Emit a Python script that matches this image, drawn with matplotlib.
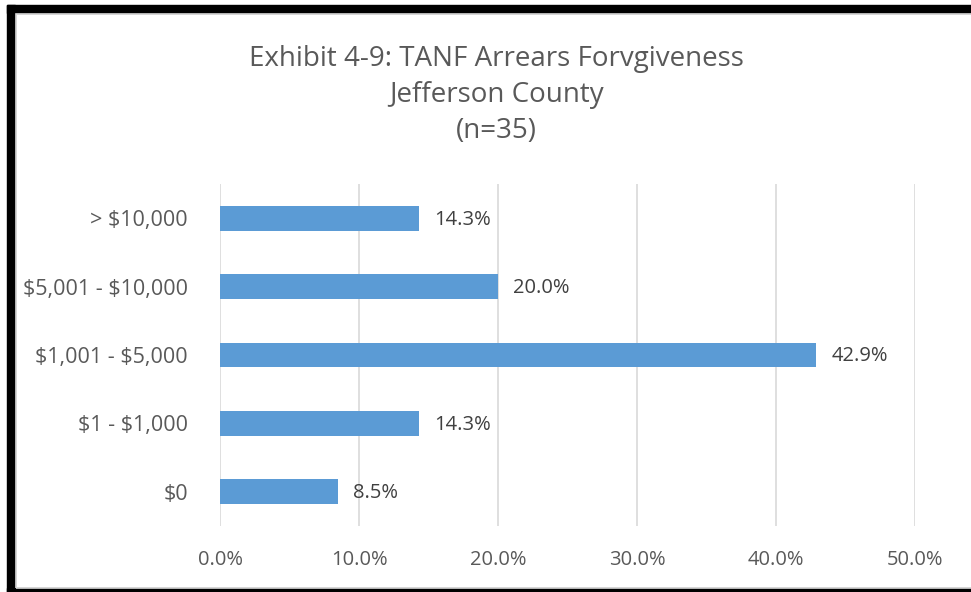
import matplotlib
matplotlib.use("Agg")
import matplotlib.pyplot as plt
from matplotlib.patches import Rectangle

plt.rcParams['font.family'] = ['Open Sans', 'DejaVu Sans']
plt.rcParams['text.parse_math'] = False

# data
categories = ["$0", "$1 - $1,000", "$1,001 - $5,000", "$5,001 - $10,000", "> $10,000"]
values = [8.5, 14.3, 42.9, 20.0, 14.3]
xticks = [0, 10, 20, 30, 40, 50]

W, H = 971, 592
fig = plt.figure(figsize=(W / 100, H / 100), dpi=100)

# black frame from the screenshot + light chart border
def px_rect(x0, y0, x1, y1, **kw):
    fig.patches.append(Rectangle((x0 / W, 1 - y1 / H), (x1 - x0) / W, (y1 - y0) / H,
                                 transform=fig.transFigure, **kw))

px_rect(7, 5, W, 13, color='black', zorder=0)
px_rect(7, 5, 15, H, color='black', zorder=0)
px_rect(7, 588, W, H, color='black', zorder=0)
px_rect(15.5, 13.5, W + 5, 587.5, fill=False, edgecolor='#d9d9d9', linewidth=1.2, zorder=0)

ax = fig.add_axes([220 / W, 1 - 526 / H, (915 - 220) / W, (526 - 184) / H])
ax.barh(range(len(categories)), values, height=0.365, color='#5b9bd5', zorder=3)
for i, v in enumerate(values):
    ax.text(v + 1.1, i - 0.02, f"{v:.1f}%", va='center', ha='left', fontsize=14.5, color='#404040')

ax.set_xlim(0, 50)
ax.set_ylim(-0.5, len(categories) - 0.5)
ax.set_xticks(xticks)
ax.set_xticklabels([f"{t:.1f}%" for t in xticks])
ax.set_yticks(range(len(categories)))
ax.set_yticklabels(categories)
ax.tick_params(axis='both', length=0, labelsize=14.5, labelcolor='#595959')
ax.tick_params(axis='x', pad=17)
ax.tick_params(axis='y', pad=23, labelsize=15.5)
ax.grid(axis='x', color='#d9d9d9', linewidth=1.2, zorder=0)
for s in ax.spines.values():
    s.set_visible(False)

fig.text(496 / W, 1 - 95 / H, "Exhibit 4-9: TANF Arrears Forvgiveness\nJefferson County\n(n=35)",
         ha='center', va='center', fontsize=20, color='#595959', linespacing=1.39)

fig.savefig("out.png", dpi=100)
